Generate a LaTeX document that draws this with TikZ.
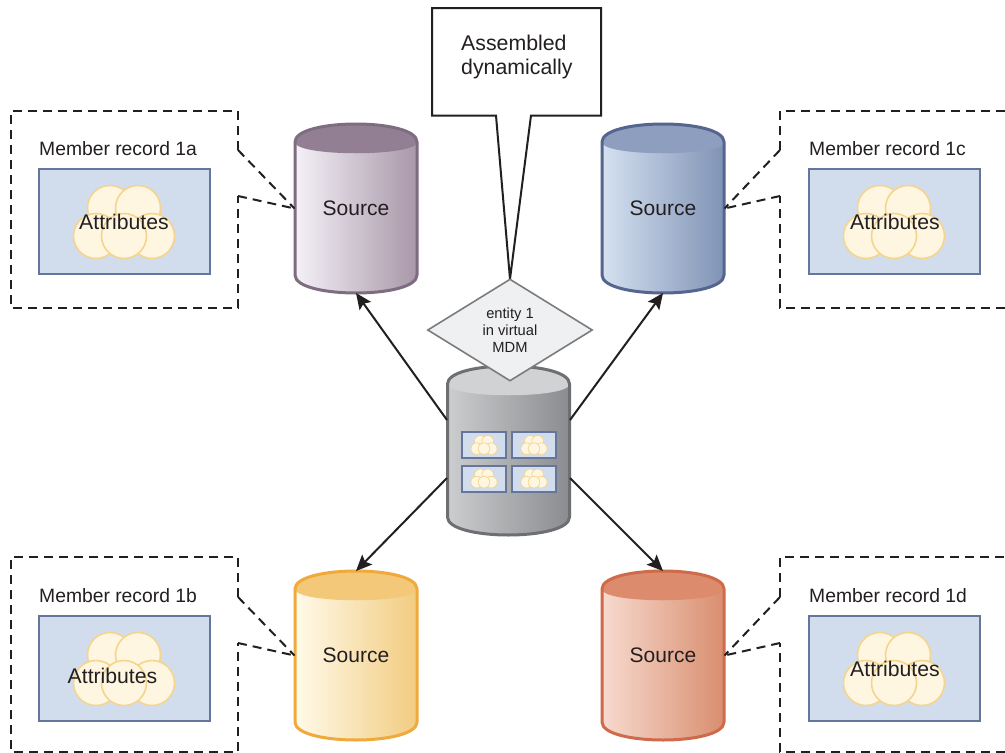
\documentclass[tikz,border=0pt]{standalone}
\usepackage{fontspec}
\setmainfont{Liberation Sans}
\usetikzlibrary{arrows.meta,shapes.geometric,calc}
\definecolor{ink}{HTML}{231F20}
\definecolor{panelfill}{HTML}{D1DDED}
\definecolor{panelline}{HTML}{66759B}
\definecolor{cloudfill}{HTML}{FEF6E0}
\definecolor{cloudline}{HTML}{F5D58E}
\definecolor{gemfill}{HTML}{EFF0F2}
\definecolor{gemline}{HTML}{7A7C7E}
\tikzset{
  flow/.style={draw=ink,line width=2pt,-{Stealth[length=16pt,width=14pt,inset=3pt]}},
  dashline/.style={draw=ink,line width=2pt,dash pattern=on 9pt off 6pt},
  panelbox/.style={draw=panelline,fill=panelfill,line width=1.6pt,minimum width=171pt,minimum height=105pt,inner sep=0pt,outer sep=0pt},
  minipanel/.style={draw=panelline,fill=panelfill,line width=2pt,minimum width=44pt,minimum height=26pt,inner sep=0pt,outer sep=0pt},
  memberlabel/.style={font=\fontsize{19.3pt}{22pt}\selectfont,text=ink,anchor=west,inner sep=0pt},
  attrlabel/.style={font=\fontsize{21.2pt}{24pt}\selectfont,text=ink,inner sep=0pt},
  cylnode/.style={minimum width=123pt,minimum height=169pt,inner sep=0pt,outer sep=0pt,font=\fontsize{21pt}{24pt}\selectfont,text=ink},
}
% cylinder: cx, top y, left, right, top face, stroke
\newcommand{\drumshape}[6]{%
  \definecolor{drumL}{HTML}{#3}\definecolor{drumR}{HTML}{#4}\definecolor{drumT}{HTML}{#5}\definecolor{drumS}{HTML}{#6}%
  \begin{scope}[shift={(#1,#2)}]
    \path[left color=drumL,right color=drumR,shading=axis] (-61,18) .. controls (-61,-6) and (61,-6) .. (61,18) -- (61,151) .. controls (61,175) and (-61,175) .. (-61,151) -- cycle;
    \fill[drumT] (-61,18) .. controls (-61,-6) and (61,-6) .. (61,18) .. controls (61,33) and (-61,33) .. (-61,18) -- cycle;
    \draw[drumS,line width=3pt,line join=round] (-61,18) .. controls (-61,-6) and (61,-6) .. (61,18) -- (61,151) .. controls (61,175) and (-61,175) .. (-61,151) -- cycle;
  \end{scope}}
% cloud: cx, cy, scale, line width
\newcommand{\puffs}[4]{%
  \begin{scope}[shift={(#1,#2)},scale=#3]
    \foreach \px/\py in {-14/-14,14/-14,-28/14,28/14,0/14}
      \draw[draw=cloudline,fill=cloudfill,line width=#4] (\px,\py) circle[radius=22.5];
  \end{scope}}
\begin{document}
\begin{tikzpicture}[x=1pt,y=-1pt]
\useasboundingbox (0,0) rectangle (1005,753);
\fill[white] (0,0) rectangle (1005,753);

% sources
\drumshape{356}{124}{F5F1F7}{A897A9}{927F94}{7E6C81}
\node[cylnode] (srca) at (356,208.5) {Source};
\drumshape{663}{124}{D5E1F0}{8093B6}{8E9EBE}{55658F}
\node[cylnode] (srcc) at (663,208.5) {Source};
\drumshape{356}{571}{FFFAEA}{F2CC80}{F3C878}{F0A93B}
\node[cylnode] (srcb) at (356,655.5) {Source};
\drumshape{663}{571}{F7DACF}{D98E6F}{DC8C6C}{CF6A4A}
\node[cylnode] (srcd) at (663,655.5) {Source};

% hub
\drumshape{508.5}{366}{CBCDCF}{8A8C8F}{D0D2D4}{6D6F72}
\node[cylnode] (hub) at (508.5,449) {};
\coordinate (hubnw) at ($(hub.west)+(0,-29)$);
\coordinate (hubne) at ($(hub.east)+(0,-29)$);
\coordinate (hubsw) at ($(hub.west)+(0,29)$);
\coordinate (hubse) at ($(hub.east)+(0,29)$);
\node[minipanel] (m1) at (484,445) {};
\node[minipanel] (m2) at (534,445) {};
\node[minipanel] (m3) at (484,478.5) {};
\node[minipanel] (m4) at (534,478.5) {};
\puffs{484}{445}{.26}{.7pt}
\puffs{534}{445}{.26}{.7pt}
\puffs{484}{478.5}{.26}{.7pt}
\puffs{534}{478.5}{.26}{.7pt}

% arrows
\draw[flow] (hubnw) -- (srca.south);
\draw[flow] (hubne) -- (srcc.south);
\draw[flow] (hubsw) -- (srcb.north);
\draw[flow] (hubse) -- (srcd.north);

% callout
\coordinate (tip) at (510,279);
\draw[draw=ink,fill=white,line width=2pt,line join=miter] (432,8) -- (601,8) -- (601,115.5) -- (531,115.5) -- (tip) -- (496,115.5) -- (432,115.5) -- cycle;
\node[font=\fontsize{21.3pt}{24pt}\selectfont,text=ink,align=left,anchor=west,inner sep=0pt] (calltext) at (461,56.5) {Assembled\\dynamically};

% diamond
\node[diamond,draw=gemline,fill=gemfill,line width=1.6pt,minimum width=165pt,minimum height=102pt,shape aspect=1.62,inner sep=0pt,align=center,font=\fontsize{14.7pt}{17.3pt}\selectfont,text=ink] (entity) at (510,330) {entity 1\\in virtual\\MDM};

% member record a
\coordinate (aa) at (238,150); \coordinate (ab) at (238,196);
\draw[dashline] (aa) -- (238,111) -- (11,111) -- (11,308) -- (238,308) -- (ab);
\draw[dashline] (aa) -- (srca.west);
\draw[dashline] (ab) -- (srca.west);
\node[memberlabel] (la) at (39,149) {Member record 1a};
\node[panelbox] (pa) at (124.5,221.5) {};
\puffs{124}{222}{1}{1.6pt}
\node[attrlabel] (ta) at (124,222) {Attributes};

% member record b
\coordinate (ba) at (238,597); \coordinate (bb) at (238,643);
\draw[dashline] (ba) -- (238,557) -- (11,557) -- (11,752) -- (238,752) -- (bb);
\draw[dashline] (ba) -- (srcb.west);
\draw[dashline] (bb) -- (srcb.west);
\node[memberlabel] (lb) at (39,596) {Member record 1b};
\node[panelbox] (pb) at (124.5,668.5) {};
\puffs{124}{669}{1}{1.6pt}
\node[attrlabel] (tb) at (112.5,676) {Attributes};

% member record c
\coordinate (ca) at (780,150); \coordinate (cb) at (780,196);
\draw[dashline] (ca) -- (780,111) -- (1005,111);
\draw[dashline] (1005,308) -- (780,308) -- (cb);
\draw[dashline] (ca) -- (srcc.east);
\draw[dashline] (cb) -- (srcc.east);
\node[memberlabel] (lc) at (809,149) {Member record 1c};
\node[panelbox] (pc) at (894.5,221.5) {};
\puffs{894}{222}{1}{1.6pt}
\node[attrlabel] (tc) at (895,222) {Attributes};

% member record d
\coordinate (da) at (780,597); \coordinate (db) at (780,643);
\draw[dashline] (da) -- (780,557) -- (1005,557);
\draw[dashline] (1005,752) -- (780,752) -- (db);
\draw[dashline] (da) -- (srcd.east);
\draw[dashline] (db) -- (srcd.east);
\node[memberlabel] (ld) at (809,596) {Member record 1d};
\node[panelbox] (pd) at (894.5,668.5) {};
\puffs{894}{669}{1}{1.6pt}
\node[attrlabel] (td) at (895,669) {Attributes};
\end{tikzpicture}
\end{document}
